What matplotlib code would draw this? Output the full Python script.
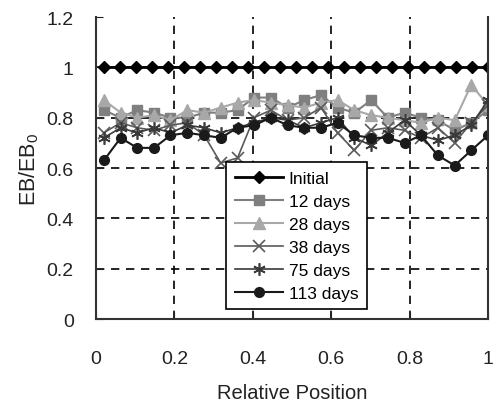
import matplotlib
matplotlib.use("Agg")
import matplotlib.pyplot as plt

plt.rcParams["font.family"] = ["Liberation Sans", "DejaVu Sans"]
plt.rcParams["mathtext.fontset"] = "custom"
plt.rcParams["mathtext.rm"] = "Liberation Sans"

# relative positions along the specimen
pos_initial = [0.02, 0.061, 0.102, 0.143, 0.183, 0.224, 0.265, 0.306, 0.347, 0.388,
               0.428, 0.469, 0.51, 0.551, 0.592, 0.633, 0.673, 0.714, 0.755, 0.796,
               0.837, 0.878, 0.918, 0.959, 1.0]
pos = [0.02, 0.063, 0.105, 0.148, 0.19, 0.233, 0.276, 0.318, 0.361, 0.403, 0.446, 0.489,
       0.531, 0.574, 0.616, 0.659, 0.702, 0.744, 0.787, 0.829, 0.872, 0.915, 0.957, 1.0]

initial = [1.0] * 25
days_12 = [0.83, 0.80, 0.83, 0.82, 0.80, 0.80, 0.82, 0.82, 0.83, 0.88, 0.88, 0.84,
           0.87, 0.89, 0.84, 0.82, 0.87, 0.80, 0.82, 0.80, 0.79, 0.75, 0.78, 0.83]
days_28 = [0.87, 0.82, 0.80, 0.81, 0.79, 0.83, 0.82, 0.84, 0.86, 0.87, 0.86, 0.85,
           0.84, 0.86, 0.87, 0.83, 0.81, 0.80, 0.79, 0.78, 0.80, 0.79, 0.93, 0.85]
days_38 = [0.74, 0.78, 0.76, 0.75, 0.77, 0.78, 0.73, 0.62, 0.64, 0.80, 0.83, 0.79,
           0.80, 0.84, 0.74, 0.67, 0.75, 0.76, 0.75, 0.72, 0.76, 0.70, 0.78, 0.85]
days_75 = [0.72, 0.76, 0.74, 0.76, 0.74, 0.77, 0.76, 0.74, 0.76, 0.78, 0.80, 0.79,
           0.76, 0.78, 0.80, 0.72, 0.69, 0.74, 0.79, 0.73, 0.71, 0.73, 0.77, 0.87]
days_113 = [0.63, 0.72, 0.68, 0.68, 0.73, 0.74, 0.73, 0.72, 0.76, 0.77, 0.80, 0.77,
            0.76, 0.76, 0.78, 0.73, 0.72, 0.72, 0.70, 0.73, 0.65, 0.61, 0.67, 0.73]

x_ticks = [0, 0.2, 0.4, 0.6, 0.8, 1]
x_ticklabels = ["0", "0.2", "0.4", "0.6", "0.8", "1"]
y_ticks = [0, 0.2, 0.4, 0.6, 0.8, 1.0, 1.2]
y_ticklabels = ["0", "0.2", "0.4", "0.6", "0.8", "1", "1.2"]

fig = plt.figure(figsize=(4.96, 4.10), dpi=100)
ax = fig.add_axes([0.1935, 0.2195, 0.7905, 0.7365])

ax.plot(pos_initial, initial, color="black", lw=2, marker="D", ms=6.5, label="Initial")
ax.plot(pos, days_12, color="#7f7f7f", lw=1.5, marker="s", ms=7, label="12 days")
ax.plot(pos, days_28, color="#a8a8a8", lw=1.5, marker="^", ms=8, label="28 days")
ax.plot(pos, days_38, color="#5a5a5a", lw=1.2, marker="x", ms=8, mew=1.2, label="38 days")
ax.plot(pos, days_75, color="#3a3a3a", lw=1.2, marker=(6, 2, 0), ms=9, mew=1.2, label="75 days")
ax.plot(pos, days_113, color="#1a1a1a", lw=1.5, marker="o", ms=7, label="113 days")

ax.set_xlim(0, 1)
ax.set_ylim(0, 1.2)
ax.set_xticks(x_ticks)
ax.set_xticklabels(x_ticklabels)
ax.set_yticks(y_ticks)
ax.set_yticklabels(y_ticklabels)
ax.tick_params(axis="x", direction="in", length=5, pad=22, labelsize=14, colors="#222222")
ax.tick_params(axis="y", direction="in", length=5, pad=16, labelsize=14, colors="#222222")

for yv in [0.2, 0.4, 0.6, 0.8, 1.0]:
    ax.axhline(yv, color="black", lw=1.2, ls=(0, (5, 4)), zorder=0)
for xv in [0.2, 0.4, 0.6, 0.8]:
    ax.axvline(xv, color="black", lw=1.2, ls=(0, (5, 4)), zorder=0)

ax.spines["top"].set_visible(False)
for side in ["left", "bottom", "right"]:
    ax.spines[side].set_color("#333333")
    ax.spines[side].set_linewidth(1.5)

ax.set_xlabel("Relative Position", fontsize=14.5, color="#222222", labelpad=12)
ax.set_ylabel(r"EB/EB$_\mathregular{0}$", fontsize=15.5, color="#222222", labelpad=4)

leg = ax.legend(loc="upper left", bbox_to_anchor=(0.332, 0.52), fontsize=12.5,
                frameon=True, fancybox=False, edgecolor="black", framealpha=1,
                handlelength=2.8, handletextpad=0.3, borderpad=0.5, labelspacing=0.45,
                borderaxespad=0)
leg.get_frame().set_linewidth(1.2)

fig.savefig("out.png", dpi=100)
